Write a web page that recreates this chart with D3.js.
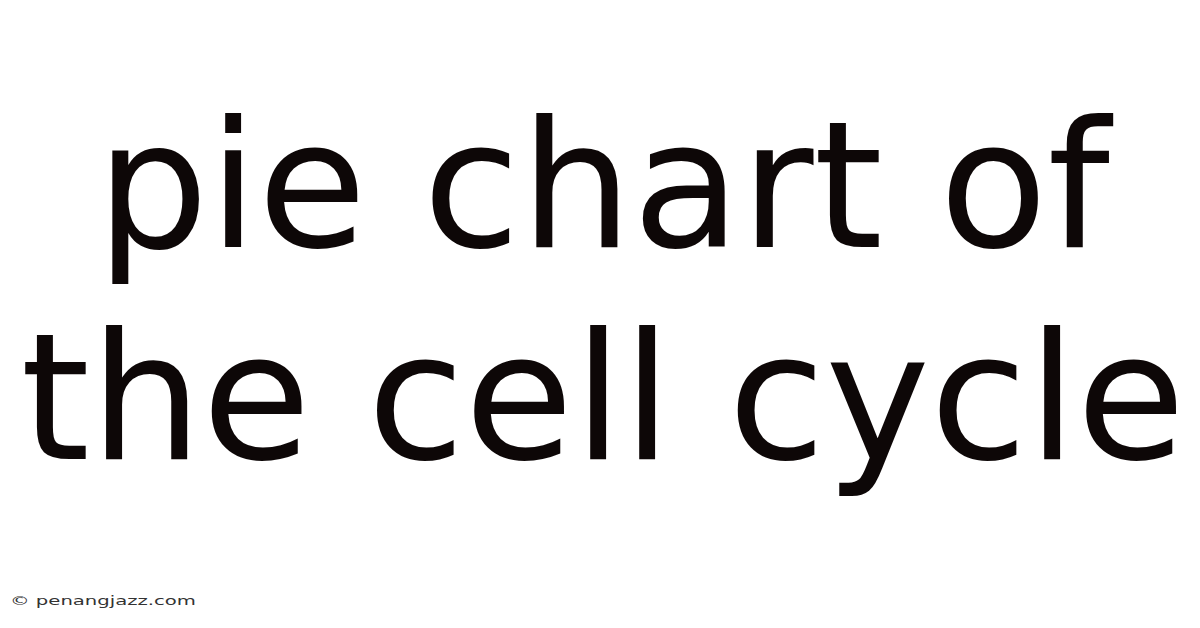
<!DOCTYPE html>
<html>
<head>
<meta charset="utf-8">
<script src="https://cdn.jsdelivr.net/npm/d3@7"></script>
<style>
  html, body { margin: 0; padding: 0; background: #ffffff; }
  svg { display: block; }
</style>
</head>
<body>
<svg id="chart" width="1200" height="628"></svg>
<script>
const titleLines = ["pie chart of", "the cell cycle"];
const watermark = ["© penangjazz.com"];

const W = 1200, H = 628;
const svg = d3.select("#chart");
svg.append("rect").attr("width", W).attr("height", H).attr("fill", "#ffffff");

const y = d3.scalePoint().domain(titleLines).range([247, 459]);

svg.selectAll("text.title")
  .data(titleLines)
  .join("text")
  .attr("class", "title")
  .attr("x", W / 2 + 3)
  .attr("y", d => y(d))
  .attr("text-anchor", "middle")
  .attr("font-family", "DejaVu Sans")
  .attr("font-size", 177)
  .attr("fill", "#0d0707")
  .text(d => d);

svg.selectAll("text.wm")
  .data(watermark)
  .join("text")
  .attr("class", "wm")
  .attr("x", 10)
  .attr("y", 605)
  .attr("font-family", "DejaVu Sans")
  .attr("font-size", 12.5)
  .attr("textLength", 186)
  .attr("lengthAdjust", "spacingAndGlyphs")
  .attr("fill", "#333333")
  .text(d => d);
</script>
</body>
</html>
